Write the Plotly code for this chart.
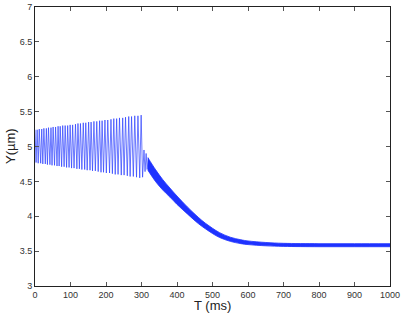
import plotly.graph_objects as go

# Oscillation phase (0-300 ms): peaks and troughs
peak_t = [0, 6, 12, 19, 25, 32, 38, 45, 51, 58, 65, 71, 78, 85, 92, 99, 106, 114, 121, 128,
          136, 143, 151, 158, 166, 174, 182, 189, 197, 205, 214, 222, 230, 238, 247, 255,
          264, 272, 281, 290, 299]
peak_y = [5.24, 5.24, 5.25, 5.25, 5.26, 5.26, 5.27, 5.27, 5.28, 5.28, 5.29, 5.29, 5.30, 5.30,
          5.30, 5.31, 5.31, 5.32, 5.33, 5.33, 5.34, 5.34, 5.35, 5.35, 5.36, 5.36, 5.37, 5.37,
          5.38, 5.38, 5.39, 5.40, 5.40, 5.41, 5.41, 5.42, 5.43, 5.43, 5.44, 5.44, 5.45]
trough_t = [3, 9, 16, 22, 29, 35, 42, 48, 55, 62, 68, 75, 82, 89, 96, 103, 110, 118, 125, 132,
            140, 147, 155, 162, 170, 178, 186, 193, 201, 210, 218, 226, 234, 243, 251, 260,
            268, 277, 286, 295]
trough_y = [4.77, 4.76, 4.76, 4.75, 4.75, 4.74, 4.74, 4.73, 4.73, 4.72, 4.72, 4.71, 4.71, 4.70,
            4.70, 4.69, 4.69, 4.68, 4.68, 4.67, 4.67, 4.66, 4.66, 4.65, 4.65, 4.64, 4.63, 4.63,
            4.62, 4.62, 4.61, 4.60, 4.60, 4.59, 4.59, 4.58, 4.57, 4.57, 4.56, 4.55]

# Transition just after 300 ms
trans_t = [303, 307, 310, 313, 316, 319]
trans_y = [4.56, 4.95, 4.64, 4.90, 4.67, 4.84]

# Decay phase: envelope of the fast small oscillation
tail_t = [318, 340, 360, 380, 400, 430, 460, 480, 500, 520, 550, 580, 600, 650, 700, 800, 900, 1000]
tail_upper = [4.84, 4.665, 4.525, 4.405, 4.29, 4.13, 3.985, 3.90, 3.828, 3.765, 3.70, 3.663,
              3.646, 3.624, 3.612, 3.607, 3.607, 3.607]
tail_lower = [4.66, 4.495, 4.375, 4.275, 4.17, 4.03, 3.895, 3.82, 3.752, 3.695, 3.64, 3.607,
              3.594, 3.576, 3.568, 3.563, 3.563, 3.563]

x_ticks = [0, 100, 200, 300, 400, 500, 600, 700, 800, 900, 1000]
y_ticks = [3, 3.5, 4, 4.5, 5, 5.5, 6, 6.5, 7]

BLUE = "rgb(30,50,255)"
FONT = "Liberation Sans"

# interleave peaks and troughs
zz_t, zz_y = [], []
for i in range(len(peak_t)):
    zz_t.append(peak_t[i]); zz_y.append(peak_y[i])
    if i < len(trough_t):
        zz_t.append(trough_t[i]); zz_y.append(trough_y[i])
zz_t += trans_t
zz_y += trans_y

fig = go.Figure()
fig.add_trace(go.Scatter(x=zz_t, y=zz_y, mode="lines",
                         line=dict(color="rgb(45,65,255)", width=0.7), showlegend=False))
fig.add_trace(go.Scatter(x=tail_t, y=tail_lower, mode="lines", line_shape="spline",
                         line=dict(color=BLUE, width=0.8), showlegend=False))
fig.add_trace(go.Scatter(x=tail_t, y=tail_upper, mode="lines", line_shape="spline",
                         line=dict(color=BLUE, width=0.8), fill="tonexty",
                         fillcolor=BLUE, showlegend=False))

axis_common = dict(showline=True, linecolor="#222", linewidth=1, mirror="allticks",
                   ticks="inside", ticklen=4, tickcolor="#555", showgrid=False,
                   zeroline=False, automargin=False,
                   tickfont=dict(family=FONT, size=9, color="#333"))

fig.update_xaxes(range=[0, 1000], tickvals=x_ticks, ticktext=[str(v) for v in x_ticks],
                 **axis_common)
fig.update_yaxes(range=[3, 7], tickvals=y_ticks, ticktext=[f"{v:g}" for v in y_ticks],
                 **axis_common)

fig.update_layout(width=402, height=314, margin=dict(l=35, r=12, t=7, b=28),
                  paper_bgcolor="white", plot_bgcolor="white",
                  annotations=[
                      dict(text="T (ms)", xref="paper", yref="paper", x=0.5, y=0,
                           yshift=-10, xanchor="center", yanchor="top", showarrow=False,
                           font=dict(family=FONT, size=13, color="#222")),
                      dict(text="Y(µm)", xref="paper", yref="paper", x=0, y=0.5,
                           xshift=-15, xanchor="right", yanchor="middle", showarrow=False,
                           textangle=-90, font=dict(family=FONT, size=13, color="#222")),
                  ])

fig.write_html("out.html", config={"displayModeBar": False},
               post_script="document.body.style.margin='0';document.body.style.overflow='hidden';")
